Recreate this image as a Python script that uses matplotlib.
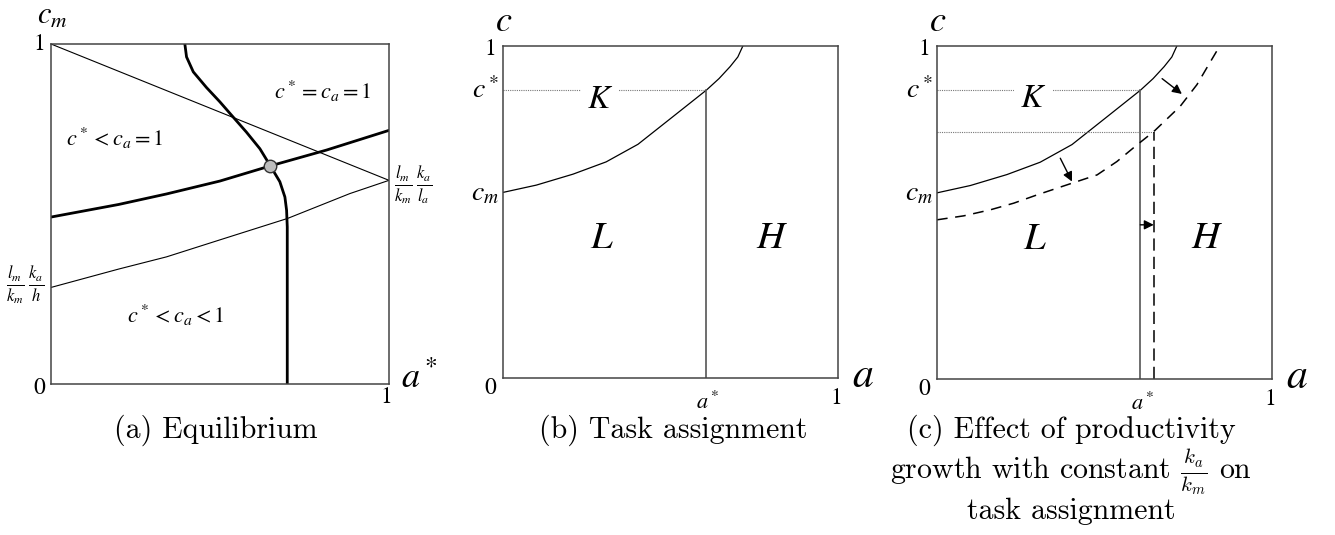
import numpy as np
import matplotlib
matplotlib.use("Agg")
import matplotlib.pyplot as plt

# ---- panel (a): equilibrium curves, (a*, c_m) on the unit square ----
fall_a = [0.0, 1.0]
fall_c = [1.0, 0.599]

low_a = [0.0, 0.2, 0.342, 0.5, 0.7, 0.884, 1.0]
low_c = [0.284, 0.338, 0.374, 0.424, 0.487, 0.56, 0.599]

rise_a = [0.0, 0.2, 0.342, 0.5, 0.649, 0.815, 1.0]
rise_c = [0.491, 0.528, 0.559, 0.597, 0.6415, 0.688, 0.746]

s_a = [0.396, 0.401, 0.421, 0.460, 0.4995, 0.539, 0.578, 0.618, 0.649,
       0.677, 0.692, 0.697, 0.699, 0.699]
s_c = [1.0, 0.962, 0.918, 0.872, 0.830, 0.785, 0.741, 0.692, 0.6415,
       0.595, 0.550, 0.511, 0.462, 0.0]

eq_a, eq_c = 0.649, 0.6415

# ---- panels (b), (c): task assignment frontier ----
front_a = [0.0, 0.0995, 0.209, 0.308, 0.403, 0.507, 0.607, 0.645, 0.678, 0.701, 0.716]
front_c = [0.559, 0.581, 0.614, 0.651, 0.704, 0.787, 0.867, 0.902, 0.938, 0.967, 1.0]
a_star, c_star = 0.607, 0.867

# frontier after productivity growth
new_a = [0.0, 0.080, 0.159, 0.229, 0.299, 0.373, 0.478, 0.537, 0.597, 0.647,
         0.726, 0.776, 0.811, 0.844]
new_c = [0.478, 0.490, 0.508, 0.528, 0.553, 0.578, 0.613, 0.653, 0.703, 0.743,
         0.819, 0.884, 0.944, 1.0]
a_new, c_new = 0.647, 0.743

# shift arrows (start, end)
shift_arrows = [((0.368, 0.663), (0.403, 0.593)),
                ((0.672, 0.902), (0.731, 0.856)),
                ((0.607, 0.463), (0.647, 0.463))]

W, H = 1335, 535
fig = plt.figure(figsize=(W / 100, H / 100), dpi=100)

def px_axes(left, top, right, bottom):
    return fig.add_axes([left / W, 1 - bottom / H, (right - left) / W, (bottom - top) / H])

ax_a = px_axes(51, 44, 389, 384)
ax_b = px_axes(503, 46, 838, 378)
ax_c = px_axes(937, 46, 1272, 379)

for ax in (ax_a, ax_b, ax_c):
    ax.set_xlim(0, 1)
    ax.set_ylim(0, 1)
    ax.set_xticks([])
    ax.set_yticks([])
    for sp in ax.spines.values():
        sp.set_color("#444444")
        sp.set_linewidth(1.1)

tick_kw = dict(family="STIXGeneral", fontsize=17, color="black")
math_kw = dict(math_fontfamily="stix", color="black")

# ---------------- (a) ----------------
ax_a.plot(fall_a, fall_c, color="black", lw=0.8)
ax_a.plot(low_a, low_c, color="black", lw=0.8)
ax_a.plot(rise_a, rise_c, color="black", lw=2.0)
ax_a.plot(s_a, s_c, color="black", lw=2.0)
ax_a.plot([eq_a], [eq_c], "o", ms=9, mfc="#bdbdbd", mec="#333333", mew=1.0, zorder=5)

ax_a.text(-0.018, 1.0, "1", ha="right", va="center", **tick_kw)
ax_a.text(-0.018, -0.012, "0", ha="right", va="center", **tick_kw)
ax_a.text(0.991, -0.04, "1", ha="center", va="center", **tick_kw)
ax_a.text(1.035, -0.012, r"$a^*$", ha="left", va="baseline", fontsize=26, **math_kw)
ax_a.text(-0.04, 1.085, r"$c_m$", ha="left", va="center", fontsize=22, **math_kw)
ax_a.text(0.805, 0.862, r"$c^*=c_a=1$", ha="center", va="center", fontsize=16, **math_kw)
ax_a.text(0.189, 0.721, r"$c^*<c_a=1$", ha="center", va="center", fontsize=16, **math_kw)
ax_a.text(0.37, 0.203, r"$c^*<c_a<1$", ha="center", va="center", fontsize=16, **math_kw)
ax_a.text(1.015, 0.585, r"$\frac{l_m}{k_m}\,\frac{k_a}{l_a}$", ha="left", va="center",
          fontsize=17, **math_kw)
ax_a.text(-0.02, 0.291, r"$\frac{l_m}{k_m}\,\frac{k_a}{h}$", ha="right", va="center",
          fontsize=17, **math_kw)

# ---------------- (b) and (c) ----------------
def assignment_panel(ax, k_xy, l_xy, h_xy, a_lab_x):
    ax.plot(front_a, front_c, color="black", lw=0.9)
    ax.plot([0, a_star], [c_star, c_star], color="#777777", lw=0.8, ls=(0, (1, 1)))
    ax.plot([a_star, a_star], [0, c_star], color="#555555", lw=1.2)
    ax.text(*k_xy, r"$K$", ha="center", va="center", fontsize=24,
            bbox=dict(fc="white", ec="none", pad=4), **math_kw)
    ax.text(*l_xy, r"$L$", ha="center", va="center", fontsize=28, **math_kw)
    ax.text(*h_xy, r"$H$", ha="center", va="center", fontsize=28, **math_kw)
    ax.text(0.003, 1.075, r"$c$", ha="center", va="center", fontsize=26, **math_kw)
    ax.text(-0.02, 0.99, "1", ha="right", va="center", **tick_kw)
    ax.text(-0.02, -0.03, "0", ha="right", va="center", **tick_kw)
    ax.text(0.994, -0.06, "1", ha="center", va="center", **tick_kw)
    ax.text(-0.012, c_star, r"$c^*$", ha="right", va="center", fontsize=20, **math_kw)
    ax.text(-0.012, front_c[0], r"$c_m$", ha="right", va="center", fontsize=20, **math_kw)
    ax.text(a_lab_x, -0.07, r"$a^*$", ha="center", va="center", fontsize=16, **math_kw)
    ax.text(1.042, -0.027, r"$a$", ha="left", va="baseline", fontsize=30, **math_kw)

assignment_panel(ax_b, (0.29, 0.843), (0.296, 0.425), (0.803, 0.425), 0.612)
assignment_panel(ax_c, (0.287, 0.844), (0.293, 0.423), (0.806, 0.426), 0.615)

ax_c.plot(new_a, new_c, color="black", lw=1.1, dashes=(7, 5))
ax_c.plot([0, a_new], [c_new, c_new], color="#777777", lw=0.8, ls=(0, (1, 1)))
ax_c.plot([a_new, a_new], [0, c_new], color="black", lw=1.1, dashes=(8, 4))
for (x0, y0), (x1, y1) in shift_arrows:
    ax_c.annotate("", xy=(x1, y1), xytext=(x0, y0),
                  arrowprops=dict(arrowstyle="-|>", color="black", lw=1.0,
                                  mutation_scale=14, shrinkA=0, shrinkB=0))

# ---------------- captions ----------------
cap_kw = dict(family="cmr10", math_fontfamily="cm", fontsize=21.5, ha="center", va="center")
fig.text(216 / W, 1 - 430 / H, "(a) Equilibrium", **cap_kw)
fig.text(673 / W, 1 - 430 / H, "(b) Task assignment", **cap_kw)
fig.text(1071 / W, 1 - 430 / H, "(c) Effect of productivity", **cap_kw)
fig.text(1071 / W, 1 - 472 / H, r"growth with constant $\frac{k_a}{k_m}$ on", **cap_kw)
fig.text(1071 / W, 1 - 511 / H, "task assignment", **cap_kw)

fig.savefig("out.png", dpi=100)
